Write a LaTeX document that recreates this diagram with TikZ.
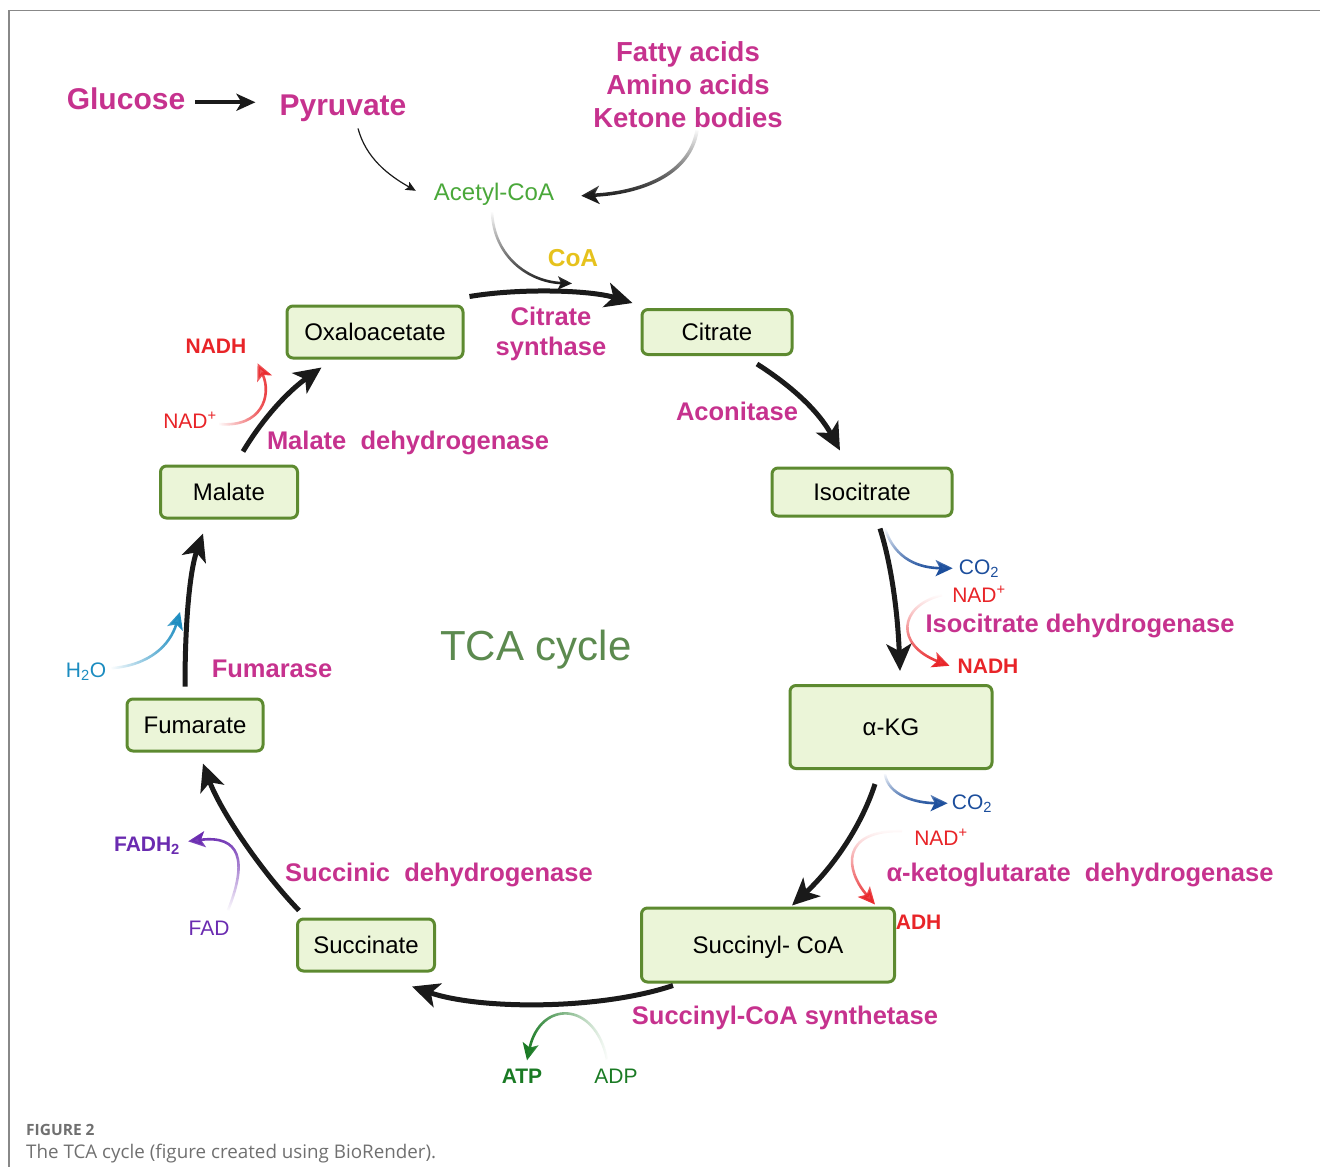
\documentclass[tikz,border=0pt]{standalone}
\usepackage{fontspec}
\setmainfont{Liberation Sans}
\newfontfamily\capfont{Open Sans}
\usetikzlibrary{arrows.meta,calc,fadings}

\definecolor{enzmag}{RGB}{198,50,142}
\definecolor{nadred}{RGB}{232,36,40}
\definecolor{coblue}{RGB}{28,78,156}
\definecolor{waterblue}{RGB}{27,140,192}
\definecolor{fadpurple}{RGB}{106,43,176}
\definecolor{atpgreen}{RGB}{26,122,36}
\definecolor{acgreen}{RGB}{74,168,58}
\definecolor{coayellow}{RGB}{230,194,29}
\definecolor{boxfill}{RGB}{235,245,216}
\definecolor{boxline}{RGB}{93,138,48}
\definecolor{tcagreen}{RGB}{92,138,79}
\definecolor{arrblack}{RGB}{26,26,26}
\definecolor{framegray}{RGB}{136,136,136}
\definecolor{capgray}{RGB}{112,112,112}

% tails that fade out at the start of a side arrow
\tikzfading[name=tailN, top color=transparent!100, middle color=transparent!0, bottom color=transparent!0]
\tikzfading[name=tailS, top color=transparent!0, middle color=transparent!0, bottom color=transparent!100]
\tikzfading[name=tailE, left color=transparent!0, middle color=transparent!0, right color=transparent!100]
\tikzfading[name=tailW, left color=transparent!100, middle color=transparent!0, right color=transparent!0]

\newcommand{\fsz}[1]{\fontsize{#1}{#1}\selectfont}

\begin{document}
\begin{tikzpicture}[x=1pt,y=-1pt,
  mol/.style={draw=boxline, fill=boxfill, line width=3pt, rounded corners=6pt,
    font=\fsz{24}, text height=17pt, text depth=0pt, inner sep=0pt},
  lbl/.style={inner sep=0pt, anchor=base},
  enz/.style={lbl, text=enzmag, font=\bfseries\fsz{25.5}},
  cof/.style={lbl, font=\fsz{21}},
  cyc/.style={draw=arrblack, line width=5pt, -{Stealth[length=27pt,width=25pt,inset=7pt]}},
  side/.style={line width=2.6pt, -{Stealth[length=17pt,width=16pt,inset=4pt]}}]
\useasboundingbox (0,0) rectangle (1320,1167);
\draw[framegray, line width=1.4pt] (9,1167) -- (9,10.5) -- (1320,10.5);

% feeding substrates
\node[lbl, text=enzmag, font=\bfseries\fsz{30}] (glu) at (126,109) {Glucose};
\node[lbl, text=enzmag, font=\bfseries\fsz{30}] (pyr) at (343,115) {Pyruvate};
\node[inner sep=0pt, text=enzmag, align=center, font=\bfseries\fontsize{27.5}{33}\selectfont] (fat) at (688,85) {Fatty acids\\Amino acids\\Ketone bodies};
\node[lbl, text=acgreen, font=\fsz{24}] (aco) at (494,200) {Acetyl-CoA};
\node[lbl, text=coayellow, font=\bfseries\fsz{24.5}] (coa) at (573,266) {CoA};

% NADH partly hidden behind the Succinyl-CoA box
\node[cof, text=nadred, font=\bfseries\fsz{21}] (nadhb) at (911,929) {NADH};

% intermediates
\node[mol, minimum width=176pt, minimum height=52pt] (oxa) at (375,332) {Oxaloacetate};
\node[mol, minimum width=150pt, minimum height=45pt] (cit) at (717,332) {Citrate};
\node[mol, minimum width=180pt, minimum height=48pt] (iso) at (862,492) {Isocitrate};
\node[mol, minimum width=202pt, minimum height=83pt] (akg) at (891,727) {α-KG};
\node[mol, minimum width=253pt, minimum height=74pt] (sca) at (768,945) {Succinyl- CoA};
\node[mol, minimum width=137pt, minimum height=52pt] (suc) at (366,945) {Succinate};
\node[mol, minimum width=136pt, minimum height=52pt] (fum) at (195,725) {Fumarate};
\node[mol, minimum width=137pt, minimum height=52pt] (mal) at (229,492) {Malate};

% enzymes
\node[enz, align=center, anchor=north, font=\bfseries\fontsize{25.5}{30}\selectfont] (cs) at (551,306.5) {Citrate\\synthase};
\node[enz] (acon) at (737,420) {Aconitase};
\node[enz] (idh) at (1080,632) {Isocitrate dehydrogenase};
\node[enz] (akgdh) at (1080,881) {α-ketoglutarate~~dehydrogenase};
\node[enz] (scs) at (785,1024) {Succinyl-CoA synthetase};
\node[enz] (sdh) at (439,881) {Succinic~~dehydrogenase};
\node[enz] (fuma) at (272,677) {Fumarase};
\node[enz] (mdh) at (408,449) {Malate~~dehydrogenase};

% cofactors
\node[cof, text=coblue] (co2a) at (979,574) {CO\textsubscript{2}};
\node[cof, text=nadred] (nada) at (979,602) {NAD\textsuperscript{+}};
\node[cof, text=nadred, font=\bfseries\fsz{21}] (nadha) at (988,673) {NADH};
\node[cof, text=coblue] (co2b) at (972,809) {CO\textsubscript{2}};
\node[cof, text=nadred] (nadb) at (941,845) {NAD\textsuperscript{+}};
\node[cof, text=atpgreen, font=\bfseries\fsz{21}] (atp) at (522,1083) {ATP};
\node[cof, text=atpgreen] (adp) at (616,1083) {ADP};
\node[cof, text=fadpurple, font=\bfseries\fsz{21}] (fadh) at (147,851) {FADH\textsubscript{2}};
\node[cof, text=fadpurple] (fad) at (209,935) {FAD};
\node[cof, text=waterblue] (h2o) at (86,677) {H\textsubscript{2}O};
\node[cof, text=nadred] (nadc) at (190,428) {NAD\textsuperscript{+}};
\node[cof, text=nadred, font=\bfseries\fsz{21}] (nadhc) at (216,353) {NADH};
\coordinate (hyd) at (180,612);

\node[lbl, text=tcagreen, font=\fsz{42}] (tca) at (536,660) {TCA cycle};

% entry arrows
\draw[arrblack, line width=4pt, -{Stealth[length=19pt,width=17pt,inset=5pt]}] ($(glu.east)+(10,4)$) -- ($(glu.east -| pyr.west)+(-24,4)$);
\draw[arrblack, line width=1.2pt, -{Stealth[length=10pt,width=9pt,inset=2pt]}] ($(pyr.south)+(15,7)$) .. controls (366,158) and (388,175) .. ($(aco.west)+(-18,-3)$);
\draw[arrblack, line width=3.5pt, -{Stealth[length=18pt,width=18pt,inset=5pt]}, path fading=tailN] ($(fat.south)+(9,2)$) .. controls (690,175) and (640,193) .. ($(aco.east)+(27,2)$);
\draw[arrblack, line width=2.6pt, -{Stealth[length=14pt,width=13pt,inset=3pt]}, path fading=tailN] ($(aco.south)+(-2,7)$) .. controls (494,258) and (530,282) .. ($(coa.south)+(-1,17)$);

% the cycle
\draw[cyc] ($(oxa.north east)+(5,-8)$) .. controls (520,288) and (590,290) .. ($(cit.north west)+(-8,-5)$);
\draw[cyc] ($(cit.south)+(40,8)$) .. controls (790,385) and (818,410) .. ($(iso.north)+(-22,-16)$);
\draw[cyc] ($(iso.south)+(18,11)$) .. controls (893,570) and (898,620) .. ($(akg.north)+(9,-13)$);
\draw[cyc] ($(akg.south)+(-16,14)$) .. controls (860,830) and (830,870) .. ($(sca.north)+(24,-1)$);
\draw[cyc] ($(sca.south)+(-95,2)$) .. controls (600,1010) and (480,1010) .. ($(suc.south east)+(-24,14)$);
\draw[cyc] ($(suc.north west)+(3,-7)$) .. controls (260,870) and (220,810) .. ($(fum.south)+(8,11)$);
\draw[cyc] ($(fum.north)+(-10,-11)$) .. controls (185,620) and (190,570) .. ($(mal.south)+(-26,14)$);
\draw[cyc] ($(mal.north)+(14,-13)$) .. controls (265,415) and (290,390) .. ($(oxa.south west)+(36,8)$);

% side reactions
\draw[coblue, side, path fading=tailN] ($(iso.south)+(23,11)$) .. controls (895,560) and (920,568) .. ($(co2a.west)+(-6,0)$);
\draw[nadred, side, path fading=tailN] ($(nada.west)+(-10,1)$) .. controls (898,606) and (895,645) .. ($(nadha.west)+(-8,0)$);
\draw[coblue, side, path fading=tailN] ($(akg.south)+(-6,4)$) .. controls (888,795) and (915,803) .. ($(co2b.west)+(-4,0)$);
\draw[nadred, side, path fading=tailN] ($(nadb.west)+(-12,-6)$) .. controls (840,830) and (845,870) .. ($(sca.north east)+(-21,-2)$);
\draw[atpgreen, side, path fading=tailE] ($(adp.north)+(-9,-9)$) .. controls (595,1000) and (540,1000) .. ($(atp.north)+(5,-8)$);
\draw[fadpurple, side, path fading=tailS] ($(fad.north)+(19,-10)$) .. controls (248,860) and (240,835) .. ($(fadh.east)+(8,-4)$);
\draw[waterblue, side, path fading=tailW] ($(h2o.east)+(5,-3)$) .. controls (150,665) and (170,645) .. (hyd);
\draw[nadred, side, path fading=tailW] ($(nadc.east)+(2,4)$) .. controls (262,428) and (272,395) .. ($(nadhc.south east)+(11,10)$);

% caption
\node[lbl, anchor=base west, text=capgray, font=\capfont\bfseries\fsz{15.5}] (fig) at (26,1135) {FIGURE 2};
\node[lbl, anchor=base west, text=capgray, font=\capfont\fsz{18.8}] (cap) at (26,1158) {The TCA cycle (figure created using BioRender).};
\end{tikzpicture}
\end{document}
